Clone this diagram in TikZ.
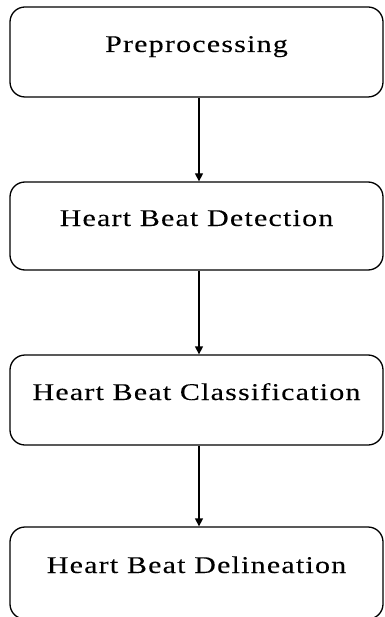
\documentclass[tikz,border=0pt]{standalone}
\usepackage{fontspec}
\setmainfont{Liberation Serif}
\usepackage{tikz}
\usetikzlibrary{arrows.meta}

\begin{document}
\begin{tikzpicture}[x=1pt, y=1pt, every node/.style={draw, rounded corners=15pt, line width=1.3pt, minimum width=373pt, minimum height=90pt, text height=15pt, text depth=15pt, font=\fontsize{24}{27}\selectfont\addfontfeatures{LetterSpace=5,FakeStretch=1.25,FakeBold=0.1}}]
    \useasboundingbox (0,0) rectangle (384,-617);

    % Blocchi
    \node (pre) at (196.5,-52) {Preprocessing};
    \node[minimum height=88pt] (det) at (196.5,-226) {Heart Beat Detection};
    \node (cla) at (196.5,-400) {Heart Beat Classification};
    \node[minimum height=92pt] (del) at (196.5,-573) {Heart Beat Delineation};

    % Frecce
    \draw[line width=1.3pt,-{Triangle[length=8pt,width=8pt]}] ([xshift=2.5pt]pre.south) -- ([xshift=2.5pt]det.north);
    \draw[line width=1.3pt,-{Triangle[length=8pt,width=8pt]}] ([xshift=2.5pt]det.south) -- ([xshift=2.5pt]cla.north);
    \draw[line width=1.3pt,-{Triangle[length=8pt,width=8pt]}] ([xshift=2.5pt]cla.south) -- ([xshift=2.5pt]del.north);
\end{tikzpicture}
\end{document}
